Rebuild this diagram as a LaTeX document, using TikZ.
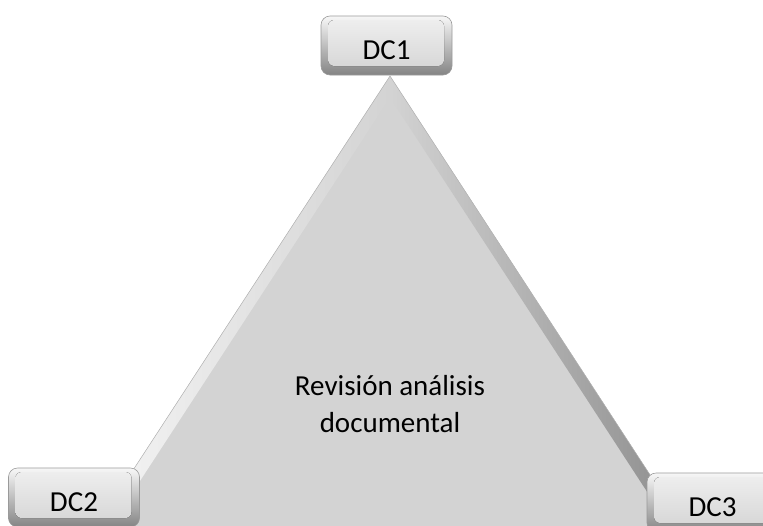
\documentclass[tikz,border=0pt]{standalone}
\usepackage{fontspec}
\setmainfont{Carlito}
\definecolor{trifill}{HTML}{D3D3D3}
\definecolor{boxedge}{HTML}{9A9A9A}
\begin{document}
\begin{tikzpicture}[x=1pt,y=-1pt,
  dcbox/.style={rounded corners=9pt, minimum width=131pt, minimum height=59pt,
    top color=black!3, bottom color=black!48, draw=boxedge, line width=0.6pt,
    font=\fontsize{29}{35}\selectfont, text height=27.5pt, text depth=0pt,
    path picture={\fill[rounded corners=6pt, top color=black!6, bottom color=black!17]
      ([shift={(7pt,-4pt)}]path picture bounding box.north west) rectangle
      ([shift={(-8pt,9pt)}]path picture bounding box.south east);}},
  bevel/.style={draw=none},
  maintext/.style={align=center, font=\fontsize{29}{37}\selectfont}]
\useasboundingbox (0,0) rectangle (763,525);
\clip (0,0) rectangle (763,525);
% triangle
\coordinate (A) at (390,76);
\coordinate (B) at (94,530);
\coordinate (C) at (686,530);
\coordinate (Ai) at (390,97.5);
\coordinate (Bi) at (108,530);
\coordinate (Ci) at (672,530);
\fill[trifill] (A) -- (B) -- (C) -- cycle;
\shade[bevel, left color=white!96!black, right color=trifill] (A) -- (B) -- (Bi) -- (Ai) -- cycle;
\shade[bevel, left color=trifill, right color=black!45] (A) -- (Ai) -- (Ci) -- (C) -- cycle;
\draw[black!30, line width=0.5pt] (B) -- (A) -- (C);
\node[maintext] (txt) at (390,404) {Revisión análisis\\documental};
% boxes
\node[dcbox] (dc1) at (386.5,45.5) {DC1};
\node[dcbox] (dc2) at (74,497.5) {DC2};
\node[dcbox] (dc3) at (712.5,502.5) {DC3};
\end{tikzpicture}
\end{document}
